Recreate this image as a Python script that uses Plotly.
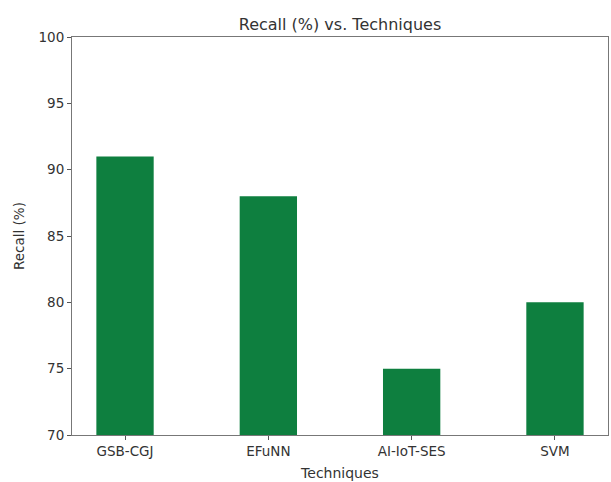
import plotly.graph_objects as go

techniques = ["GSB-CGJ", "EFuNN", "AI-IoT-SES", "SVM"]
recall = [91, 88, 75, 80]
y_ticks = [70, 75, 80, 85, 90, 95, 100]

fig = go.Figure()
fig.add_trace(go.Bar(
    x=list(range(len(techniques))),
    y=[v - 70 for v in recall],
    base=70,
    width=0.4,
    marker=dict(color="#0e7f3f", line=dict(width=0)),
))

font_family = "DejaVu Sans, sans-serif"
fig.update_layout(
    width=611, height=482,
    margin=dict(l=72, r=3, t=37, b=47),
    paper_bgcolor="white", plot_bgcolor="white",
    showlegend=False,
    font=dict(family=font_family, size=13.5, color="#333333"),
    title=dict(text="Recall (%) vs. Techniques", x=0.5, xanchor="center",
               xref="paper", y=1, yref="paper", yanchor="bottom", pad=dict(b=7),
               font=dict(size=16, color="#333333")),
    xaxis=dict(
        range=[-0.37, 3.37],
        tickmode="array", tickvals=list(range(len(techniques))), ticktext=techniques,
        ticks="outside", ticklen=4, tickcolor="#555555",
        showline=True, linecolor="#777777", linewidth=1, mirror=True,
        showgrid=False, zeroline=False, tickfont=dict(size=13.5),
        title=dict(text="Techniques", standoff=9, font=dict(size=14)),
    ),
    yaxis=dict(
        range=[70, 100],
        tickmode="array", tickvals=y_ticks,
        ticks="outside", ticklen=4, tickcolor="#555555",
        showline=True, linecolor="#777777", linewidth=1, mirror=True,
        showgrid=False, zeroline=False, tickfont=dict(size=13.5),
        title=dict(text="Recall (%)", standoff=10, font=dict(size=13.5)),
    ),
)

fig.write_html("out.html")
